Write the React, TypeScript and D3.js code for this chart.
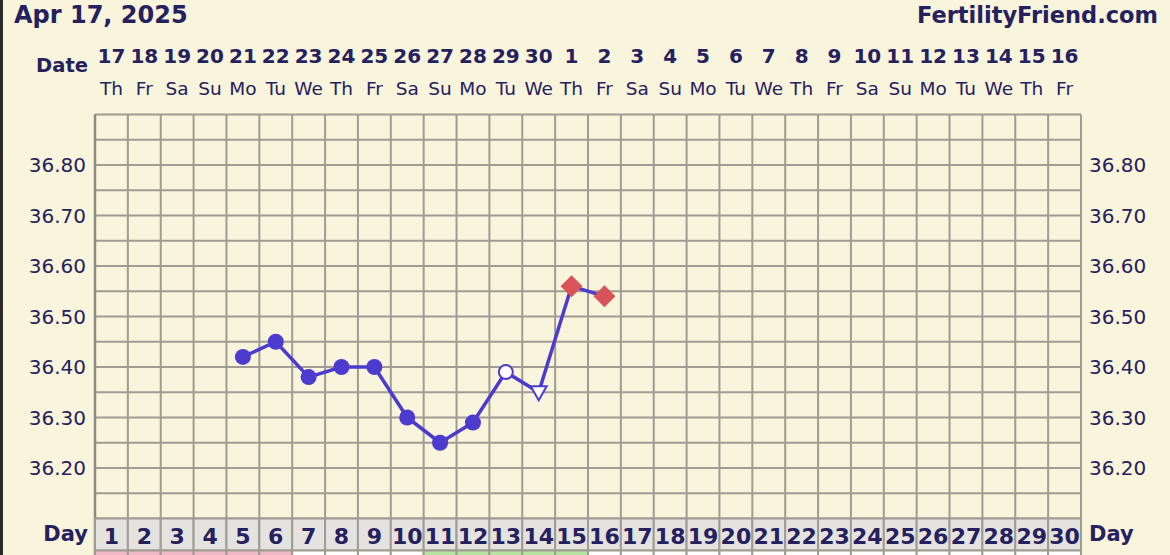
import React from "react";
import * as d3 from "d3";

const dates = ["17","18","19","20","21","22","23","24","25","26","27","28","29","30","1","2","3","4","5","6","7","8","9","10","11","12","13","14","15","16"];
const weekdays = ["Th","Fr","Sa","Su","Mo","Tu","We","Th","Fr","Sa","Su","Mo","Tu","We","Th","Fr","Sa","Su","Mo","Tu","We","Th","Fr","Sa","Su","Mo","Tu","We","Th","Fr"];
const cycleDays = d3.range(1, 31);
const tempDays = [5, 6, 7, 8, 9, 10, 11, 12, 13, 14, 15, 16];
const temps = [36.42, 36.45, 36.38, 36.40, 36.40, 36.30, 36.25, 36.29, 36.39, 36.35, 36.56, 36.54];
const markers = ["dot","dot","dot","dot","dot","dot","dot","dot","open","tri","diamond","diamond"];
const yTicks = [36.8, 36.7, 36.6, 36.5, 36.4, 36.3, 36.2];
const pinkDays = [1, 2, 3, 4, 5, 6];
const greenDays = [11, 12, 13, 14, 15];

const W = 1170, H = 555;
const gx0 = 95, gx1 = 1081, gy0 = 114.5, gy1 = 518.5;
const navy = "#25215e";
const lineCol = "#4b3bcf";
const gridCol = "#a09c94";
const font = "'DejaVu Sans', Verdana, sans-serif";

export default function App() {
  const x = d3.scaleBand<number>().domain(cycleDays).range([gx0, gx1]);
  const y = d3.scaleLinear().domain([36.1, 36.9]).range([gy1, gy0]);
  const cx = (d: number) => (x(d) as number) + x.bandwidth() / 2;
  const hLines = d3.range(0, 17).map((i) => 36.1 + i * 0.05);
  const pts = tempDays.map((d, i) => [cx(d), y(temps[i])] as [number, number]);
  const line = d3.line();
  return (
    <div style={{ position: "fixed", left: 0, top: 0, width: W, height: H }}>
      <svg width={W} height={H} style={{ display: "block" }}>
        <rect x={0} y={0} width={W} height={H} fill="#f9f4dc" />
        <rect x={0} y={0} width={3} height={H} fill="#2a2a2a" />
        <text x={14} y={23} fontFamily={font} fontWeight="bold" fontSize={24} fill={navy}>Apr 17, 2025</text>
        <text x={1158} y={23} textAnchor="end" fontFamily={font} fontWeight="bold" fontSize={22.5} fill={navy}>FertilityFriend.com</text>
        <text x={88} y={72} textAnchor="end" fontFamily={font} fontWeight="bold" fontSize={19.5} fill={navy}>Date</text>
        {cycleDays.map((d, i) => (
          <g key={"h" + d}>
            <text x={cx(d)} y={63} textAnchor="middle" fontFamily={font} fontWeight="bold" fontSize={20} fill={navy}>{dates[i]}</text>
            <text x={cx(d)} y={95} textAnchor="middle" fontFamily={font} fontSize={18.5} fill={navy}>{weekdays[i]}</text>
          </g>
        ))}
        {/* grid */}
        {hLines.map((v, i) => (
          <line key={"hl" + i} x1={gx0} x2={gx1} y1={y(v)} y2={y(v)} stroke={gridCol} strokeWidth={2} />
        ))}
        {cycleDays.map((d) => (
          <line key={"vl" + d} x1={x(d) as number} x2={x(d) as number} y1={gy0} y2={gy1} stroke={gridCol} strokeWidth={2} />
        ))}
        <line x1={gx1} x2={gx1} y1={gy0} y2={gy1} stroke={gridCol} strokeWidth={2} />
        <line x1={gx0} x2={gx0} y1={gy0} y2={H} stroke="#8f8b84" strokeWidth={2.5} />
        {yTicks.map((v) => (
          <g key={"yt" + v}>
            <text x={86} y={y(v) + 7} textAnchor="end" fontFamily={font} fontSize={20} fill={navy}>{v.toFixed(2)}</text>
            <text x={1089} y={y(v) + 7} fontFamily={font} fontSize={20} fill={navy}>{v.toFixed(2)}</text>
          </g>
        ))}
        {/* day row */}
        {cycleDays.map((d) => (
          <g key={"dr" + d}>
            <rect x={x(d) as number} y={gy1} width={x.bandwidth()} height={32} fill="#e4e3e0" stroke={gridCol} strokeWidth={2} />
            <rect x={x(d) as number} y={gy1 + 32} width={x.bandwidth()} height={10}
              fill={pinkDays.includes(d) ? "#f1b8c8" : greenDays.includes(d) ? "#b5e3a0" : "#ffffff"} stroke={gridCol} strokeWidth={2} />
            <text x={cx(d)} y={gy1 + 25} textAnchor="middle" fontFamily={font} fontWeight="bold" fontSize={22} fill={navy}>{d}</text>
          </g>
        ))}
        <text x={88} y={gy1 + 22} textAnchor="end" fontFamily={font} fontWeight="bold" fontSize={21} fill={navy}>Day</text>
        <text x={1089} y={gy1 + 22} fontFamily={font} fontWeight="bold" fontSize={21} fill={navy}>Day</text>
        {/* data */}
        <path d={line(pts) || ""} fill="none" stroke={lineCol} strokeWidth={3.5} strokeLinejoin="round" />
        {pts.map(([px, py], i) => {
          const m = markers[i];
          if (m === "dot") return <circle key={i} cx={px} cy={py} r={8} fill={lineCol} />;
          if (m === "open") return <circle key={i} cx={px} cy={py} r={7} fill="#ffffff" stroke={lineCol} strokeWidth={2} />;
          if (m === "tri")
            return <path key={i} d={`M${px - 8},${py - 6} L${px + 8},${py - 6} L${px},${py + 8} Z`} fill="#ffffff" stroke={lineCol} strokeWidth={2} />;
          return <path key={i} d={`M${px},${py - 11} L${px + 11},${py} L${px},${py + 11} L${px - 11},${py} Z`} fill="#d9545a" />;
        })}
      </svg>
    </div>
  );
}
